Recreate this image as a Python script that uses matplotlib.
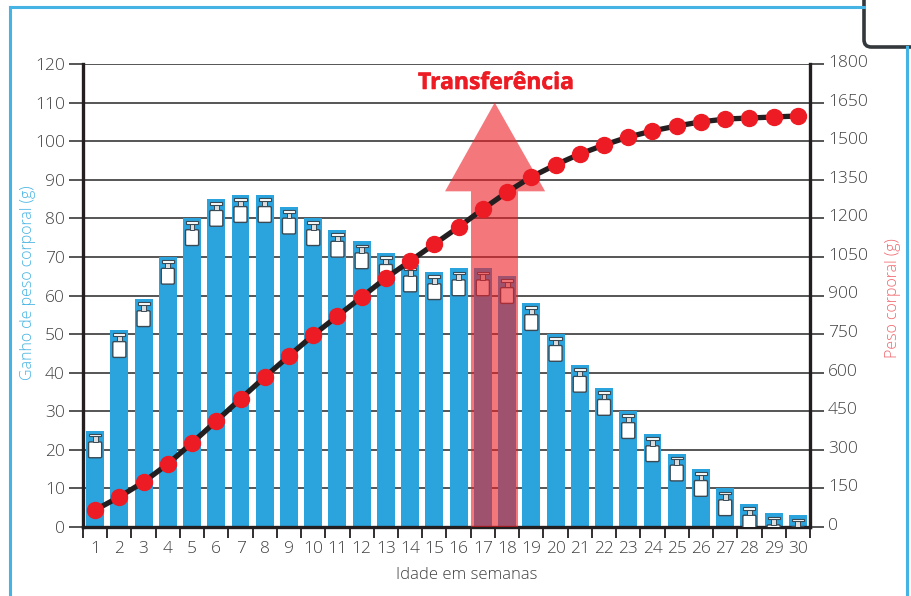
import matplotlib
matplotlib.use("Agg")
import matplotlib.pyplot as plt
import matplotlib.patheffects as pe
from matplotlib.patches import FancyBboxPatch, Polygon, Rectangle
from matplotlib.lines import Line2D
from matplotlib.transforms import ScaledTranslation

plt.rcParams["font.family"] = ["Open Sans", "DejaVu Sans"]

semanas = list(range(1, 31))
ganho = [25, 51, 59, 70, 80, 85, 86, 86, 83, 80, 77, 74, 71, 68, 66, 67, 67, 65,
         58, 50, 42, 36, 30, 24, 19, 15, 10, 6, 3.5, 3]
peso = [66, 117, 175, 245, 327, 412, 498, 583, 665, 746, 820, 894, 968, 1034, 1100,
        1166, 1236, 1302, 1361, 1408, 1450, 1485, 1516, 1540, 1559, 1575, 1586, 1590,
        1594, 1598]
ticks_ganho = list(range(0, 121, 10))
ticks_peso = list(range(0, 1801, 150))

AZUL = "#2ba3dd"
VERMELHO = "#ed1c24"
CINZA = "#555555"
ESCURO = "#231f20"
TEXTO = "#414042"

fig = plt.figure(figsize=(9.12, 5.96), dpi=100)
ax = fig.add_axes([83 / 912, 1 - 527 / 596, 727 / 912, 463 / 596])
ax.set_xlim(0.5, 30.5)
ax.set_ylim(0, 120)

ax.bar(semanas, ganho, width=0.74, color=AZUL, zorder=2)
ax.grid(axis="y", color=CINZA, lw=1.4, zorder=1)
ax.set_axisbelow(True)


def peso_icone(x, topo):
    # pesinho branco dentro da barra, medidas em unidades dos dados
    cor = "#3a4a55"
    body = FancyBboxPatch((x - 0.24, topo - 6.9), 0.48, 3.8,
                          boxstyle="round,pad=0.03,rounding_size=0.06",
                          fc="white", ec=cor, lw=1.0, zorder=3, mutation_aspect=5)
    ax.add_patch(body)
    ax.add_patch(Rectangle((x - 0.1, topo - 2.9), 0.2, 1.5, fc="#dddddd", ec=cor, lw=0.7, zorder=3))
    ax.add_patch(Rectangle((x - 0.25, topo - 1.5), 0.5, 0.7, fc="white", ec=cor, lw=0.8, zorder=3))


for s, g in zip(semanas, ganho):
    peso_icone(s, g)

# seta da transferencia
seta = Polygon([(16.51, 0), (16.51, 87), (15.44, 87), (17.49, 110), (19.57, 87),
                (18.45, 87), (18.45, 0)], closed=True, fc=VERMELHO, ec="none",
               alpha=0.6, zorder=4)
ax.add_patch(seta)

ax.set_yticks(ticks_ganho)
ax.set_xticks(semanas)
ax.set_xticks([s + 0.5 for s in [0] + semanas], minor=True)
ax.tick_params(axis="x", which="major", length=0, pad=10, labelsize=12.5, labelcolor=TEXTO)
ax.tick_params(axis="x", which="minor", length=8, width=1.3, color=ESCURO)
ax.tick_params(axis="y", length=10, width=1.4, color=CINZA, labelsize=12.5, labelcolor=TEXTO, pad=3)
for lado in ["left", "bottom"]:
    ax.spines[lado].set_linewidth(2.4)
    ax.spines[lado].set_color(ESCURO)
ax.spines["top"].set_visible(False)
ax.spines["right"].set_visible(False)

ax2 = ax.twinx()
ax2.set_ylim(0, 1800)
ax2.set_yticks(ticks_peso)
ax2.tick_params(axis="y", length=10, width=1.4, color=CINZA, labelsize=12.5, labelcolor=TEXTO, pad=3)
for lado in ["left", "bottom", "top"]:
    ax2.spines[lado].set_visible(False)
ax2.spines["right"].set_linewidth(2.4)
ax2.spines["right"].set_color(ESCURO)
ax2.plot(semanas, peso, color=ESCURO, lw=3.8, marker="o", ms=11.5, mfc=VERMELHO, mec=VERMELHO,
         zorder=5, clip_on=False)

# numeros em peso leve; os da direita ficam um pouco acima da grade
for lab in ax.get_xticklabels() + ax.get_yticklabels() + ax2.get_yticklabels():
    lab.set_fontweight(300)
sobe = ScaledTranslation(0, 3 / 100, fig.dpi_scale_trans)
for lab in ax2.get_yticklabels():
    lab.set_transform(lab.get_transform() + sobe)

titulo = fig.text(496 / 912, 1 - 83 / 596, "Transferência", color=VERMELHO, fontsize=16.5, fontweight="bold",
                  ha="center", va="center", stretch="condensed")
titulo.set_path_effects([pe.withStroke(linewidth=0.4, foreground=VERMELHO)])
fig.text(28 / 912, 1 - 283 / 596, "Ganho de peso corporal (g)", color="#45b3e3", fontsize=11.5,
         fontweight=300, rotation=90, ha="center", va="center")
fig.text(893 / 912, 1 - 298 / 596, "Peso corporal (g)", color="#f0686e", fontsize=11.5,
         fontweight=300, rotation=90, ha="center", va="center")
fig.text(467 / 912, 1 - 575 / 596, "Idade em semanas", color=TEXTO, fontsize=12, fontweight=300,
         ha="center", va="center")


# moldura azul e caixa escura no canto
def px(x, y):
    return x / 912, 1 - y / 596


for p0, p1 in [((10, 7), (864, 7)), ((10, 7), (10, 596)), ((907, 47), (907, 596))]:
    a, b = px(*p0), px(*p1)
    fig.add_artist(Line2D([a[0], b[0]], [a[1], b[1]], color="#45b3e3", lw=2.2))
caixa = FancyBboxPatch(px(864, 47), 80 / 912, 60 / 596, transform=fig.transFigure,
                       boxstyle="round,pad=0,rounding_size=0.008", fc="white", ec="#33383c", lw=2.6,
                       mutation_aspect=912 / 596)
fig.add_artist(caixa)

fig.savefig("out.png", dpi=100)
